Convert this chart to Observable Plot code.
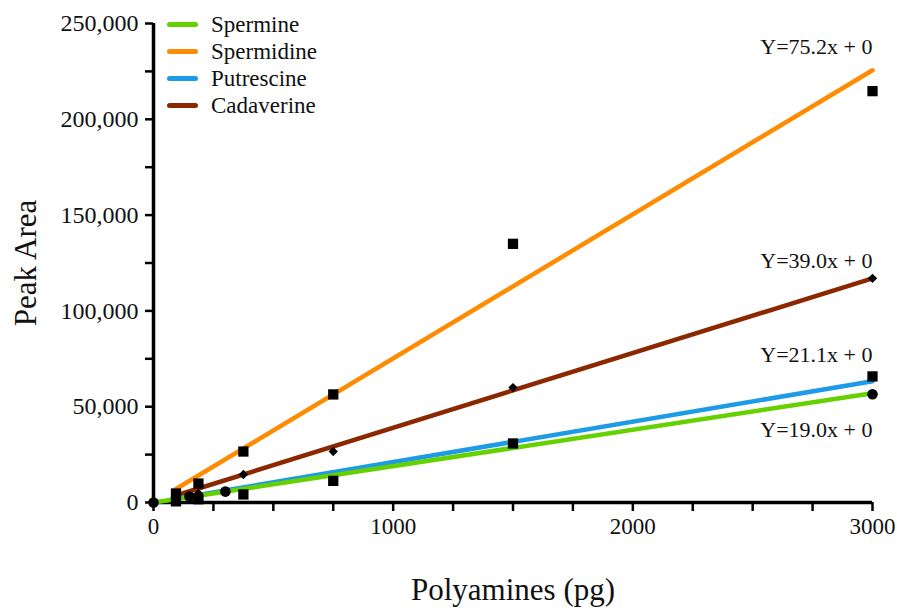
<!DOCTYPE html>
<html>
<head>
<meta charset="utf-8">
<script src="https://cdn.jsdelivr.net/npm/d3@7"></script>
<script src="https://cdn.jsdelivr.net/npm/@observablehq/plot@0.6"></script>
<style>
  html, body { margin: 0; padding: 0; background: #fff; }
  #wrap { position: relative; width: 897px; height: 610px; }
  svg, svg text, #legend, #legend span { font-family: "Liberation Serif", "Times New Roman", serif !important; }
  #legend { position: absolute; left: 167px; top: 11px; font-size: 23px; color: #111; }
  .row { display: flex; align-items: center; height: 27px; }
  .sw { width: 31px; height: 5px; border-radius: 3px; margin-right: 13px; }
</style>
</head>
<body>
<div id="wrap"><div id="legend"></div></div>
<script>
// Series
const seriesNames = ["Spermine", "Spermidine", "Putrescine", "Cadaverine"];
const seriesColors = ["#66d100", "#ff8c00", "#1e9be6", "#8c2800"];
const slopes = [19.0, 75.2, 21.1, 39.0];
const equations = ["Y=19.0x + 0", "Y=75.2x + 0", "Y=21.1x + 0", "Y=39.0x + 0"];
const lineStart = [0, 93.75, 93.75, 93.75];
const lineEnd = [3000, 3000, 3000, 3000];

// Measured points
const spermineX = [0, 150, 300, 3000];
const spermineY = [0, 3100, 5700, 56500];
const doseX = [93.75, 187.5, 375, 750, 1500, 3000];
const spermidineY = [4700, 9900, 26600, 56400, 135000, 214700];
const putrescineY = [600, 1700, 4200, 11300, 30800, 65800];
const cadaverineY = [3300, 4700, 14600, 26600, 60000, 117000];

// Axis ticks
const xTicks = d3.range(0, 3001, 250);
const xLabels = [0, 1000, 2000, 3000];
const yTicks = d3.range(0, 250001, 25000);
const yLabels = [0, 50000, 100000, 150000, 200000, 250000];

// Label offsets (px) of the equation labels from the line ends
const labelDy = [37, -23, -26, -17];

const fits = seriesNames.map((name, i) => [
  {series: name, x: lineStart[i], y: slopes[i] * lineStart[i]},
  {series: name, x: lineEnd[i], y: slopes[i] * lineEnd[i]}
]);
const drawOrder = [1, 3, 2, 0];

const pts = (xs, ys) => xs.map((x, i) => ({x, y: ys[i]}));
const font = "Liberation Serif";

const chart = Plot.plot({
  width: 897,
  height: 610,
  marginLeft: 153,
  marginRight: 25,
  marginTop: 23,
  marginBottom: 108,
  x: {domain: [0, 3000]},
  y: {domain: [0, 250000]},
  style: {fontFamily: font, fontSize: "22px", color: "#111", background: "#fff"},
  marks: [
    Plot.axisY({ticks: yTicks, tickFormat: d => yLabels.includes(d) ? d3.format(",")(d) : "",
      tickSize: 8, tickPadding: 7, strokeWidth: 2.5, fontSize: 24, fontFamily: font, label: null, stroke: "#000"}),
    Plot.axisX({ticks: xTicks, tickFormat: d => xLabels.includes(d) ? String(d) : "",
      tickSize: 9, tickPadding: 6, strokeWidth: 2.5, fontSize: 23, fontFamily: font, label: null, stroke: "#000"}),
    Plot.ruleX([0], {stroke: "#000", strokeWidth: 3.5}),
    Plot.ruleY([0], {stroke: "#000", strokeWidth: 3.5}),
    ...drawOrder.map(i => Plot.line(fits[i], {x: "x", y: "y", stroke: seriesColors[i], strokeWidth: 4.5, strokeLinecap: "round"})),
    Plot.dot(pts(doseX, putrescineY), {x: "x", y: "y", symbol: "square", r: 5.8, fill: "#000", stroke: "none"}),
    Plot.dot(pts(doseX, spermidineY), {x: "x", y: "y", symbol: "square", r: 5.8, fill: "#000", stroke: "none"}),
    Plot.dot(pts(doseX, cadaverineY), {x: "x", y: "y", symbol: "diamond2", r: 4.2, fill: "#000", stroke: "none"}),
    Plot.dot(pts(spermineX, spermineY), {x: "x", y: "y", symbol: "circle", r: 5.3, fill: "#000", stroke: "none"}),
    ...seriesNames.map((name, i) => Plot.text([equations[i]], {
      x: () => 3000, y: () => slopes[i] * 3000, text: d => d,
      textAnchor: "end", dy: labelDy[i], fontSize: 22, fontFamily: font, fill: "#111"})),
    Plot.text(["Polyamines (pg)"], {frameAnchor: "bottom", lineAnchor: "middle", textAnchor: "middle", dy: 88, fontSize: 31, fontFamily: font, fill: "#111"}),
    Plot.text(["Peak Area"], {frameAnchor: "left", lineAnchor: "middle", textAnchor: "middle", dx: -127, rotate: -90, fontSize: 31, fontFamily: font, fill: "#111"})
  ]
});

const wrap = document.getElementById("wrap");
wrap.insertBefore(chart, wrap.firstChild);

const legend = document.getElementById("legend");
seriesNames.forEach((name, i) => {
  const row = document.createElement("div");
  row.className = "row";
  const sw = document.createElement("div");
  sw.className = "sw";
  sw.style.background = seriesColors[i];
  const t = document.createElement("span");
  t.textContent = name;
  row.appendChild(sw);
  row.appendChild(t);
  legend.appendChild(row);
});
</script>
</body>
</html>
